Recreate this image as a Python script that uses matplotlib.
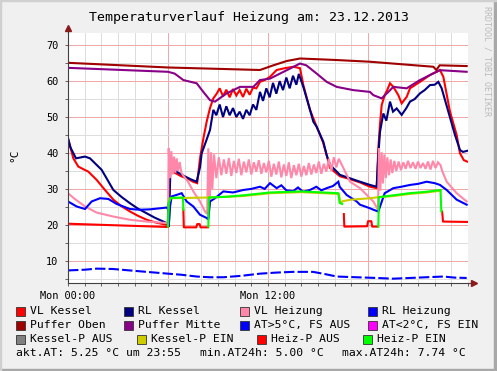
import numpy as np
import matplotlib
matplotlib.use("Agg")
import matplotlib.pyplot as plt
from matplotlib.patches import Rectangle

nan = np.nan

# ---- data (hours since Mon 00:00, degC) ----
vlk_t = [0, 0.15, 0.32, 0.62, 1.0, 1.22, 1.72, 2.2, 2.72, 3.2, 3.72, 4.2, 4.72, 5.3, 5.92,
         6.02, 6.12, 6.4, 6.8, 7.2, 7.5, 7.75, 7.92, 8.12, 8.32, 8.52, 8.72, 8.92, 9.1, 9.3,
         9.5, 9.7, 9.9, 10.1, 10.3, 10.5, 10.7, 10.9, 11.1, 11.3, 11.52, 11.8, 12.12, 12.52,
         13.0, 13.52, 13.92, 14.12, 14.52, 14.92, 15.3, 15.52, 15.72, 16.32, 16.72, 17.52,
         18.12, 18.52, 18.62, 18.72, 18.82, 19.0, 19.15, 19.32, 19.52, 19.82, 20.02, 20.32,
         20.52, 21.12, 21.72, 22.32, 22.52, 22.92, 23.32, 23.52, 23.75, 23.95]
vlk_v = [44.0, 41.5, 38.5, 36.2, 35.3, 34.8, 32.5, 29.8, 27.0, 25.2, 23.7, 22.5, 21.4, 20.6, 20.0,
         20.2, 36.0, 34.5, 33.5, 32.8, 32.0, 31.6, 38.5, 44.0, 48.7, 52.5, 55.2, 56.5, 58.0, 55.8,
         57.6, 55.5, 57.8, 56.0, 57.5, 55.6, 57.9, 56.2, 58.2, 58.0, 59.8, 60.3, 61.2, 63.1,
         63.6, 64.0, 63.6, 58.9, 52.0, 47.3, 43.0, 39.4, 35.8, 33.5, 33.0, 31.8,
         30.6, 30.2, 41.3, 48.0, 53.3, 56.1, 57.5, 59.4, 58.4, 56.1, 53.8, 55.6,
         58.0, 59.8, 61.7, 63.1, 61.2, 51.5, 45.0, 39.9, 38.0, 37.6]

rlk_t = [0, 0.15, 0.48, 1.02, 1.32, 2.02, 2.72, 3.2, 3.72, 4.2, 4.72, 5.2, 5.72, 6.0, 6.05,
         6.15, 6.5, 7.0, 7.4, 7.72, 7.92, 8.02, 8.3, 8.52, 8.72, 8.9, 9.1, 9.3, 9.5, 9.7, 9.9,
         10.1, 10.3, 10.5, 10.7, 10.9, 11.1, 11.3, 11.52, 11.7, 11.9, 12.1, 12.3, 12.5, 12.7,
         12.9, 13.1, 13.3, 13.5, 13.7, 13.85, 14.12, 14.52, 14.72, 14.92, 15.32, 15.52, 15.72,
         16.32, 17.52, 18.12, 18.52, 18.62, 18.72, 18.92, 19.1, 19.32, 19.5, 19.72, 20.02,
         20.3, 20.52, 20.8, 21.12, 21.4, 21.72, 22.0, 22.22, 22.42, 22.82, 23.22, 23.52,
         23.7, 23.95]
rlk_v = [44.1, 41.5, 38.5, 39.0, 38.5, 35.3, 29.7, 27.8, 26.0, 24.5, 23.2, 22.0, 20.9, 20.3, 19.5,
         36.5, 34.8, 33.5, 32.6, 32.0, 36.0, 39.9, 43.5, 46.4, 52.0, 50.5, 53.5, 50.0, 53.0, 50.5, 52.5,
         50.0, 51.5, 49.5, 52.0, 50.5, 53.5, 52.0, 57.0, 54.5, 58.0, 55.5, 59.5, 56.5, 60.0,
         57.5, 61.0, 58.0, 61.5, 59.0, 62.0, 58.4, 52.0, 48.7, 47.3, 43.1, 39.4, 36.7,
         33.9, 32.0, 31.1, 30.6, 39.4, 45.9, 51.0, 49.0, 54.3, 51.5, 52.4, 50.6,
         52.5, 54.3, 55.0, 56.6, 57.5, 58.9, 59.0, 59.8, 58.0, 51.5, 45.0, 40.8,
         40.3, 40.6]

vlh_t = [0, 0.35, 1.02, 1.72, 2.72, 3.72, 4.72, 5.92, 6.0, 6.04, 6.12, 6.2, 6.28, 6.36, 6.44,
         6.52, 6.6, 6.7, 6.8, 6.95, 7.2, 7.52, 7.92, 8.22, 8.35, 8.42, 8.5, 8.58, 8.66, 8.76,
         8.9, 9.05, 9.2, 9.35, 9.5, 9.65, 9.8, 9.95, 10.1, 10.25, 10.4, 10.55, 10.7, 10.85,
         11.0, 11.15, 11.3, 11.45, 11.6, 11.75, 11.9, 12.05, 12.2, 12.35, 12.5, 12.65, 12.8,
         12.95, 13.1, 13.25, 13.4, 13.55, 13.7, 13.85, 14.0, 14.15, 14.3, 14.45, 14.6, 14.75,
         14.9, 15.05, 15.2, 15.35, 15.5, 15.65, 15.8, 15.95, 16.1, 16.25, 16.45, 16.92, 17.52,
         18.12, 18.32, 18.6, 18.66, 18.74, 18.82, 18.9, 18.98, 19.07, 19.16, 19.26, 19.36,
         19.46, 19.58, 19.7, 19.84, 19.98, 20.12, 20.26, 20.4, 20.55, 20.7, 20.85, 21.0,
         21.15, 21.3, 21.45, 21.6, 21.75, 21.9, 22.05, 22.2, 22.35, 22.45, 22.72, 23.32, 23.92]
vlh_v = [28.8, 27.4, 25.1, 23.4, 22.3, 21.4, 20.9, 20.5, 20.5, 41.3, 33.0, 40.5, 34.0, 39.0, 34.5,
         38.5, 35.0, 37.5, 34.5, 33.5, 32.0, 29.3, 26.5, 23.7, 23.0, 41.3, 25.0, 40.2, 30.0, 39.6,
         33.0, 38.8, 33.8, 38.2, 34.2, 38.6, 33.6, 37.8, 34.4, 38.4, 33.8, 37.6, 34.6, 38.2,
         34.0, 37.4, 34.8, 38.0, 34.2, 37.2, 34.6, 37.8, 33.4, 37.0, 34.0, 37.6, 33.2,
         36.8, 33.6, 37.4, 33.0, 36.6, 33.8, 37.0, 33.4, 36.4, 33.8, 37.2, 34.0, 36.8,
         34.4, 37.6, 34.2, 37.0, 34.8, 38.4, 35.0, 38.8, 36.0, 38.4, 36.5, 32.0, 30.2,
         27.4, 26.5, 24.2, 41.3, 29.5, 40.2, 31.5, 39.6, 33.0, 38.8, 33.8, 38.2,
         34.4, 37.8, 35.0, 37.6, 35.2, 37.4, 35.6, 37.8, 35.8, 37.4, 35.6, 37.6,
         35.8, 37.2, 35.6, 37.6, 35.4, 37.8, 35.8, 37.4, 36.6, 35.0, 32.0, 28.8, 26.5]

rlh_t = [0, 0.52, 1.02, 1.42, 1.92, 2.42, 2.92, 3.72, 4.32, 4.9, 5.92, 6.0, 6.05, 6.12, 6.22,
         6.5, 6.82, 7.12, 7.52, 7.92, 8.32, 8.42, 8.52, 8.82, 9.32, 9.9, 10.52, 11.0, 11.52,
         11.8, 12.12, 12.52, 12.8, 13.1, 13.52, 13.8, 14.1, 14.52, 14.9, 15.2, 15.52, 15.9,
         16.22, 16.3, 16.72, 17.32, 17.52, 18.12, 18.32, 18.62, 19.0, 19.52, 20.0, 20.52,
         21.0, 21.52, 22.0, 22.32, 22.72, 23.32, 23.92]
rlh_v = [26.5, 25.1, 24.4, 26.5, 27.4, 27.2, 25.8, 24.4, 24.2, 24.3, 24.8, 24.4, 19.8, 25.0, 27.9,
         28.3, 28.8, 26.5, 25.1, 22.8, 21.9, 21.5, 26.5, 27.4, 29.3, 29.0, 29.7, 30.0, 30.6,
         30.0, 31.6, 30.2, 31.0, 29.6, 29.4, 30.4, 29.2, 29.7, 30.6, 29.6, 30.2, 30.8,
         32.0, 30.6, 28.3, 26.5, 25.6, 24.6, 24.2, 23.7, 28.8, 30.2, 30.6, 31.1,
         31.4, 32.0, 31.6, 31.1, 29.7, 27.0, 25.6]

po_t = [0, 6.0, 11.52, 12.32, 13.12, 13.92, 16.0, 18.12, 21.92, 22.1, 22.3, 23.92]
po_v = [65.1, 63.8, 63.1, 64.4, 65.6, 66.3, 65.9, 65.4, 64.0, 63.1, 64.4, 64.2]

pm_t = [0, 6.0, 6.4, 6.92, 7.72, 8.12, 8.52, 8.82, 9.52, 10.32, 11.12, 11.52, 12.12, 12.72,
        13.92, 14.3, 14.92, 15.52, 16.12, 17.12, 18.12, 18.32, 18.82, 19.22, 19.52, 20.32,
        21.12, 21.72, 22.32, 23.92]
pm_v = [63.7, 62.6, 62.1, 60.3, 59.4, 57.0, 54.7, 54.3, 56.6, 58.4, 58.4, 60.3, 60.7, 62.1,
        64.9, 64.4, 62.1, 59.8, 58.4, 57.5, 57.0, 56.1, 55.2, 57.0, 58.4, 58.0,
        60.3, 61.7, 63.05, 62.6]

at_t = [0, 1.0, 1.72, 2.7, 3.7, 4.72, 6.0, 6.8, 7.72, 8.5, 9.32, 10.4, 11.52, 12.5, 13.5,
        14.7, 15.4, 16.12, 17.3, 18.52, 19.5, 20.5, 21.5, 22.52, 23.2, 23.92]
at_v = [7.3, 7.5, 7.8, 7.7, 7.3, 6.9, 6.4, 6.1, 5.6, 5.4, 5.4, 5.8, 6.4, 6.7, 6.9,
        6.9, 6.3, 5.6, 5.4, 5.2, 5.0, 5.2, 5.4, 5.6, 5.3, 5.2]

kp_aus_t = [5.97, 6.03]
kp_aus_v = [19.5, 26.0]

kp_ein_t = [6.05, 6.15, 8.4, 10.5, 12.12, 14.0, 16.25, 16.35, 16.5, 17.0, 18.12, 18.62,
            19.5, 20.5, 21.5, 22.35]
kp_ein_v = [26.3, 27.4, 27.6, 28.0, 28.8, 29.1, 28.6, 26.1, 26.6, 27.0, 27.4, 27.7,
            28.0, 28.6, 29.0, 29.5]

hp_aus_t = [0, 5.95, 6.0, 6.01, 6.92, 6.95, 7.7, 7.75, 7.9, 7.95, 8.4, 8.41, 16.55, 16.58,
            17.95, 18.0, 18.2, 18.25, 18.6, 18.61, 22.45, 22.5, 23.95]
hp_aus_v = [20.3, 19.4, 19.4, nan, 24.2, 19.3, 19.3, 20.2, 20.2, 19.3, 19.3, nan, 23.0, 19.5,
            19.6, 21.0, 21.0, 19.5, 19.5, nan, 23.7, 20.9, 20.8]

hp_ein_t = [6.0, 6.05, 6.15, 6.9, 6.92, 6.93, 8.42, 8.45, 9.5, 10.5, 12.12, 14.0, 16.22, 16.3,
            16.45, 16.46, 18.62, 18.65, 19.5, 20.5, 21.5, 22.35, 22.4]
hp_ein_v = [19.5, 26.1, 27.5, 27.6, 24.2, nan, 19.5, 27.6, 27.8, 28.2, 29.0, 29.3, 28.8, 26.1,
            25.8, nan, 19.5, 27.7, 28.2, 28.8, 29.2, 29.7, 23.7]

series = [
    ("VL Kessel", "#FF0000", vlk_t, vlk_v),
    ("RL Kessel", "#000080", rlk_t, rlk_v),
    ("VL Heizung", "#FF88AA", vlh_t, vlh_v),
    ("RL Heizung", "#0000FF", rlh_t, rlh_v),
    ("Puffer Oben", "#A00000", po_t, po_v),
    ("Puffer Mitte", "#880088", pm_t, pm_v),
    ("Kessel-P AUS", "#808080", kp_aus_t, kp_aus_v),
    ("Kessel-P EIN", "#CCCC00", kp_ein_t, kp_ein_v),
    ("Heiz-P AUS", "#FF0000", hp_aus_t, hp_aus_v),
    ("Heiz-P EIN", "#00FF00", hp_ein_t, hp_ein_v),
]

legend_rows = [
    [("VL Kessel", "#FF0000"), ("RL Kessel", "#000080"), ("VL Heizung", "#FF88AA"), ("RL Heizung", "#0000FF")],
    [("Puffer Oben", "#A00000"), ("Puffer Mitte", "#880088"), ("AT>5°C, FS AUS", "#0000FF"), ("AT<2°C, FS EIN", "#FF00FF")],
    [("Kessel-P AUS", "#808080"), ("Kessel-P EIN", "#CCCC00"), ("Heiz-P AUS", "#FF0000"), ("Heiz-P EIN", "#00FF00")],
]
stats = ["akt.AT: 5.25 °C um 23:55", "min.AT24h: 5.00 °C", "max.AT24h: 7.74 °C"]

W, H = 497, 371
mono = "DejaVu Sans Mono"
plt.rcParams["font.family"] = mono

fig = plt.figure(figsize=(W / 100, H / 100), dpi=100, facecolor="#F0F0F0")
ax = fig.add_axes([68 / W, 88 / H, 400 / W, 250 / H])
ax.set_facecolor("white")

for name, col, t, v in series[:6]:
    ax.plot(t, v, color=col, lw=1.5, solid_joinstyle="miter")
ax.plot(at_t, at_v, color="#0000FF", lw=1.5, dashes=(5, 1.5))
for name, col, t, v in series[6:]:
    ax.plot(t, v, color=col, lw=1.5)

ax.set_xlim(0, 24)
ax.set_ylim(3.8, 73.4)
ax.set_xticks([0, 6, 12, 18])
ax.set_xticklabels(["Mon 00:00", "", "Mon 12:00", ""])
ax.set_xticks(range(0, 25), minor=True)
ax.set_yticks(range(10, 71, 10))
ax.set_yticks(range(5, 75, 5), minor=True)
ax.grid(which="minor", color="#DCDCDC", lw=0.7)
ax.grid(which="major", color="#F2A6A6", lw=0.7)
ax.set_axisbelow(True)
ax.tick_params(which="both", length=2, width=0.7, color="#606060", labelsize=7.4, pad=4)
ax.tick_params(axis="y", pad=5)
for s in ["top", "right"]:
    ax.spines[s].set_visible(False)
for s in ["left", "bottom"]:
    ax.spines[s].set_color("#404040")
    ax.spines[s].set_linewidth(0.8)

# axis arrows
ax.plot([0, 0], [1.0, 1.02], transform=ax.transAxes, clip_on=False, color="#404040", lw=0.8)
ax.plot([1.0, 1.015], [0, 0], transform=ax.transAxes, clip_on=False, color="#404040", lw=0.8)
ax.plot([0], [1.02], marker="^", ms=4, color="#8B1A1A", transform=ax.transAxes, clip_on=False)
ax.plot([1.015], [0], marker=">", ms=4, color="#8B1A1A", transform=ax.transAxes, clip_on=False)

fig.text(249 / W, 1 - 17 / H, "Temperaturverlauf Heizung am: 23.12.2013",
         ha="center", va="center", fontsize=9.5)
fig.text(14 / W, 1 - 155 / H, "°C", rotation=90, ha="center", va="center", fontsize=8)
fig.text(487 / W, 1 - 6 / H, "RRDTOOL / TOBI OETIKER", rotation=270, ha="center", va="top",
         fontsize=6, color="#BBBBBB")

# legend
row_y = [311, 325, 339]
col_x = [[16, 124, 240, 368], [16, 124, 240, 368], [16, 137, 257, 363]]
for r, row in enumerate(legend_rows):
    for c, (lab, col) in enumerate(row):
        x0 = col_x[r][c]
        y0 = row_y[r]
        fig.patches.append(Rectangle((x0 / W, 1 - (y0 + 4.5) / H), 9 / W, 9 / H,
                                     transform=fig.transFigure, facecolor=col,
                                     edgecolor="#333333", lw=0.6))
        fig.text((x0 + 14) / W, 1 - y0 / H, lab, ha="left", va="center", fontsize=8.2)
for x0, s in zip([16, 200, 342], stats):
    fig.text(x0 / W, 1 - 353 / H, s, ha="left", va="center", fontsize=8.2)

# frame
fig.patches.append(Rectangle((0, 0), 1, 2 / H, transform=fig.transFigure, color="#A8A8A8"))
fig.patches.append(Rectangle((1 - 3 / W, 0), 3 / W, 1, transform=fig.transFigure, color="#A8A8A8"))
fig.patches.append(Rectangle((0, 1 - 1 / H), 1, 1 / H, transform=fig.transFigure, color="#D0D0D0"))
fig.patches.append(Rectangle((0, 0), 1 / W, 1, transform=fig.transFigure, color="#D0D0D0"))

fig.savefig("out.png", dpi=100, facecolor=fig.get_facecolor())
